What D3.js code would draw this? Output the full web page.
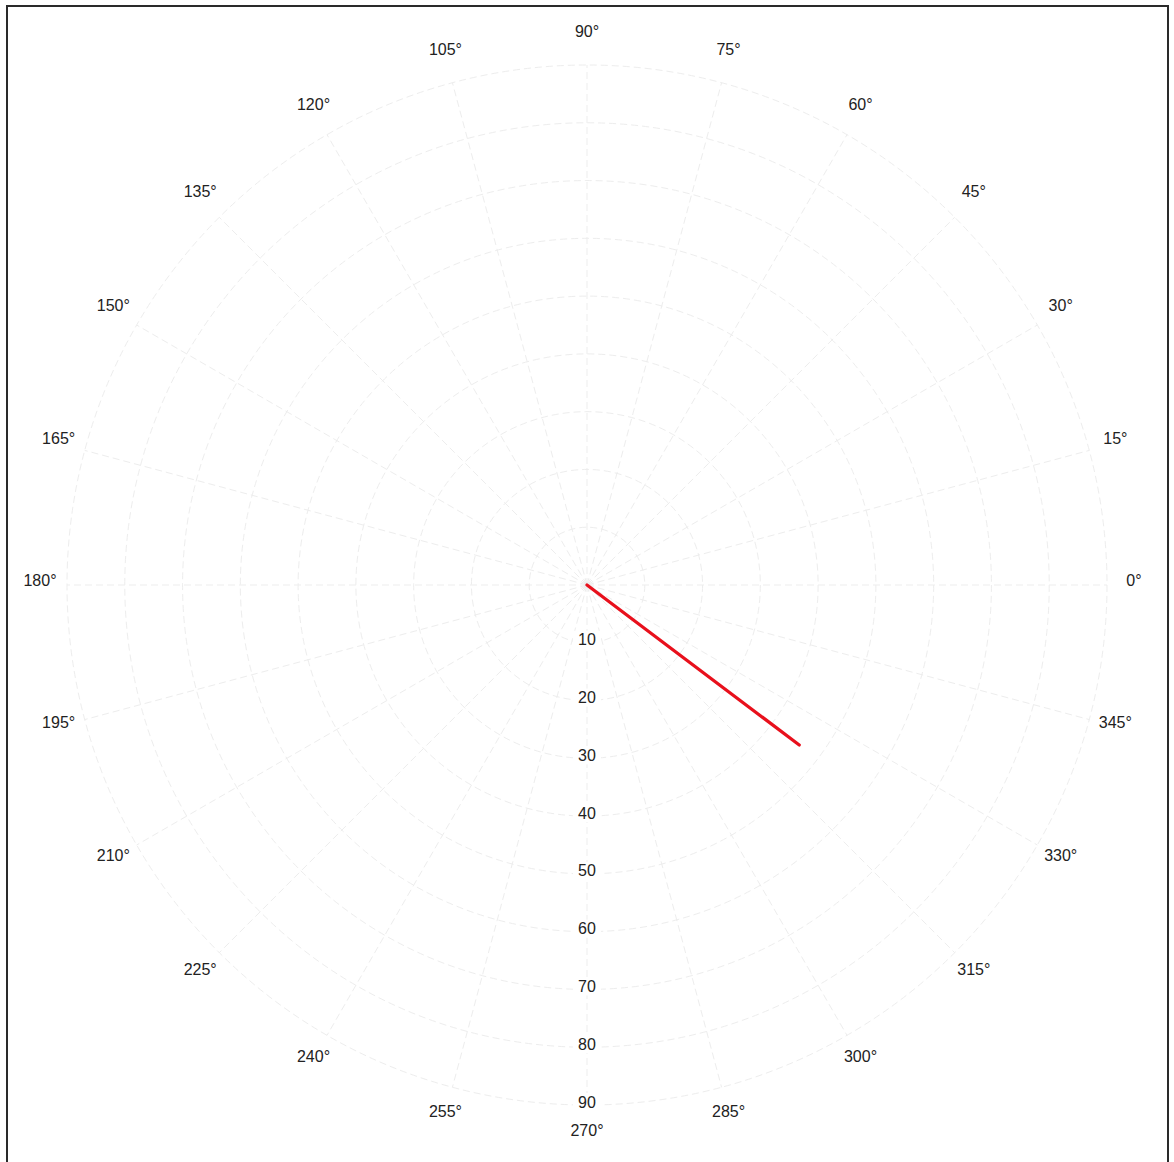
<!DOCTYPE html>
<html>
<head>
<meta charset="utf-8">
<script src="https://cdn.jsdelivr.net/npm/d3@7"></script>
<style>
  html, body { margin: 0; padding: 0; background: #fff; }
  svg { display: block; }
</style>
</head>
<body>
<script>
// ---- data ----
const angleTicks = [0, 15, 30, 45, 60, 75, 90, 105, 120, 135, 150, 165, 180, 195, 210, 225, 240, 255, 270, 285, 300, 315, 330, 345];
const radialTicks = [10, 20, 30, 40, 50, 60, 70, 80, 90];
const seriesTheta = [323, 323];
const seriesR = [0, 46];
const radialMax = 90;

// ---- layout ----
const W = 1174, H = 1162;
const cx = 587, cy = 585, R = 520;
const labelRx = 547, labelRy = 549.5, labelCy = -4.5;

const svg = d3.select("body").append("svg").attr("width", W).attr("height", H);

// frame
svg.append("rect").attr("x", 7).attr("y", 6).attr("width", 1161).attr("height", 1170)
  .attr("fill", "none").attr("stroke", "#2a2a2a").attr("stroke-width", 2);

const g = svg.append("g").attr("transform", `translate(${cx},${cy})`);
const r = d3.scaleLinear().domain([0, radialMax]).range([0, R]);
const toRad = d => (90 - d) * Math.PI / 180; // d3 radial angle (clockwise from top)

const gridStyle = s => s.attr("fill", "none").attr("stroke", "#ededed")
  .attr("stroke-width", 1).attr("stroke-dasharray", "7,4");

// circles
g.append("g").selectAll("circle").data(radialTicks).join("circle")
  .attr("r", d => r(d)).call(gridStyle);

// spokes
g.append("g").selectAll("line").data(angleTicks).join("line")
  .attr("x1", 0).attr("y1", 0)
  .attr("x2", d => r(radialMax) * Math.sin(toRad(d)))
  .attr("y2", d => -r(radialMax) * Math.cos(toRad(d)))
  .call(gridStyle);

// angle labels
g.append("g").selectAll("text").data(angleTicks).join("text")
  .attr("x", d => labelRx * Math.sin(toRad(d)))
  .attr("y", d => labelCy - labelRy * Math.cos(toRad(d)))
  .attr("text-anchor", "middle").attr("dominant-baseline", "central")
  .attr("font-family", "Liberation Sans, Arial, sans-serif").attr("font-size", 16)
  .attr("fill", "#222")
  .text(d => d + "°");

// radial labels along 270° direction
const rl = g.append("g").selectAll("g").data(radialTicks).join("g")
  .attr("transform", d => `translate(0,${r(d) - 3})`);
rl.append("rect").attr("x", -14).attr("y", -9).attr("width", 28).attr("height", 18).attr("fill", "#fff");
rl.append("text").attr("text-anchor", "middle").attr("dominant-baseline", "central")
  .attr("font-family", "Liberation Sans, Arial, sans-serif").attr("font-size", 16)
  .attr("fill", "#222").text(d => d);

// series
const pts = seriesTheta.map((t, i) => ({ theta: t, r: seriesR[i] }));
const line = d3.lineRadial().angle(d => toRad(d.theta)).radius(d => r(d.r));
g.append("path").datum(pts).attr("d", line)
  .attr("fill", "none").attr("stroke", "#e8101c").attr("stroke-width", 3.2)
  .attr("stroke-linecap", "round");
</script>
</body>
</html>
